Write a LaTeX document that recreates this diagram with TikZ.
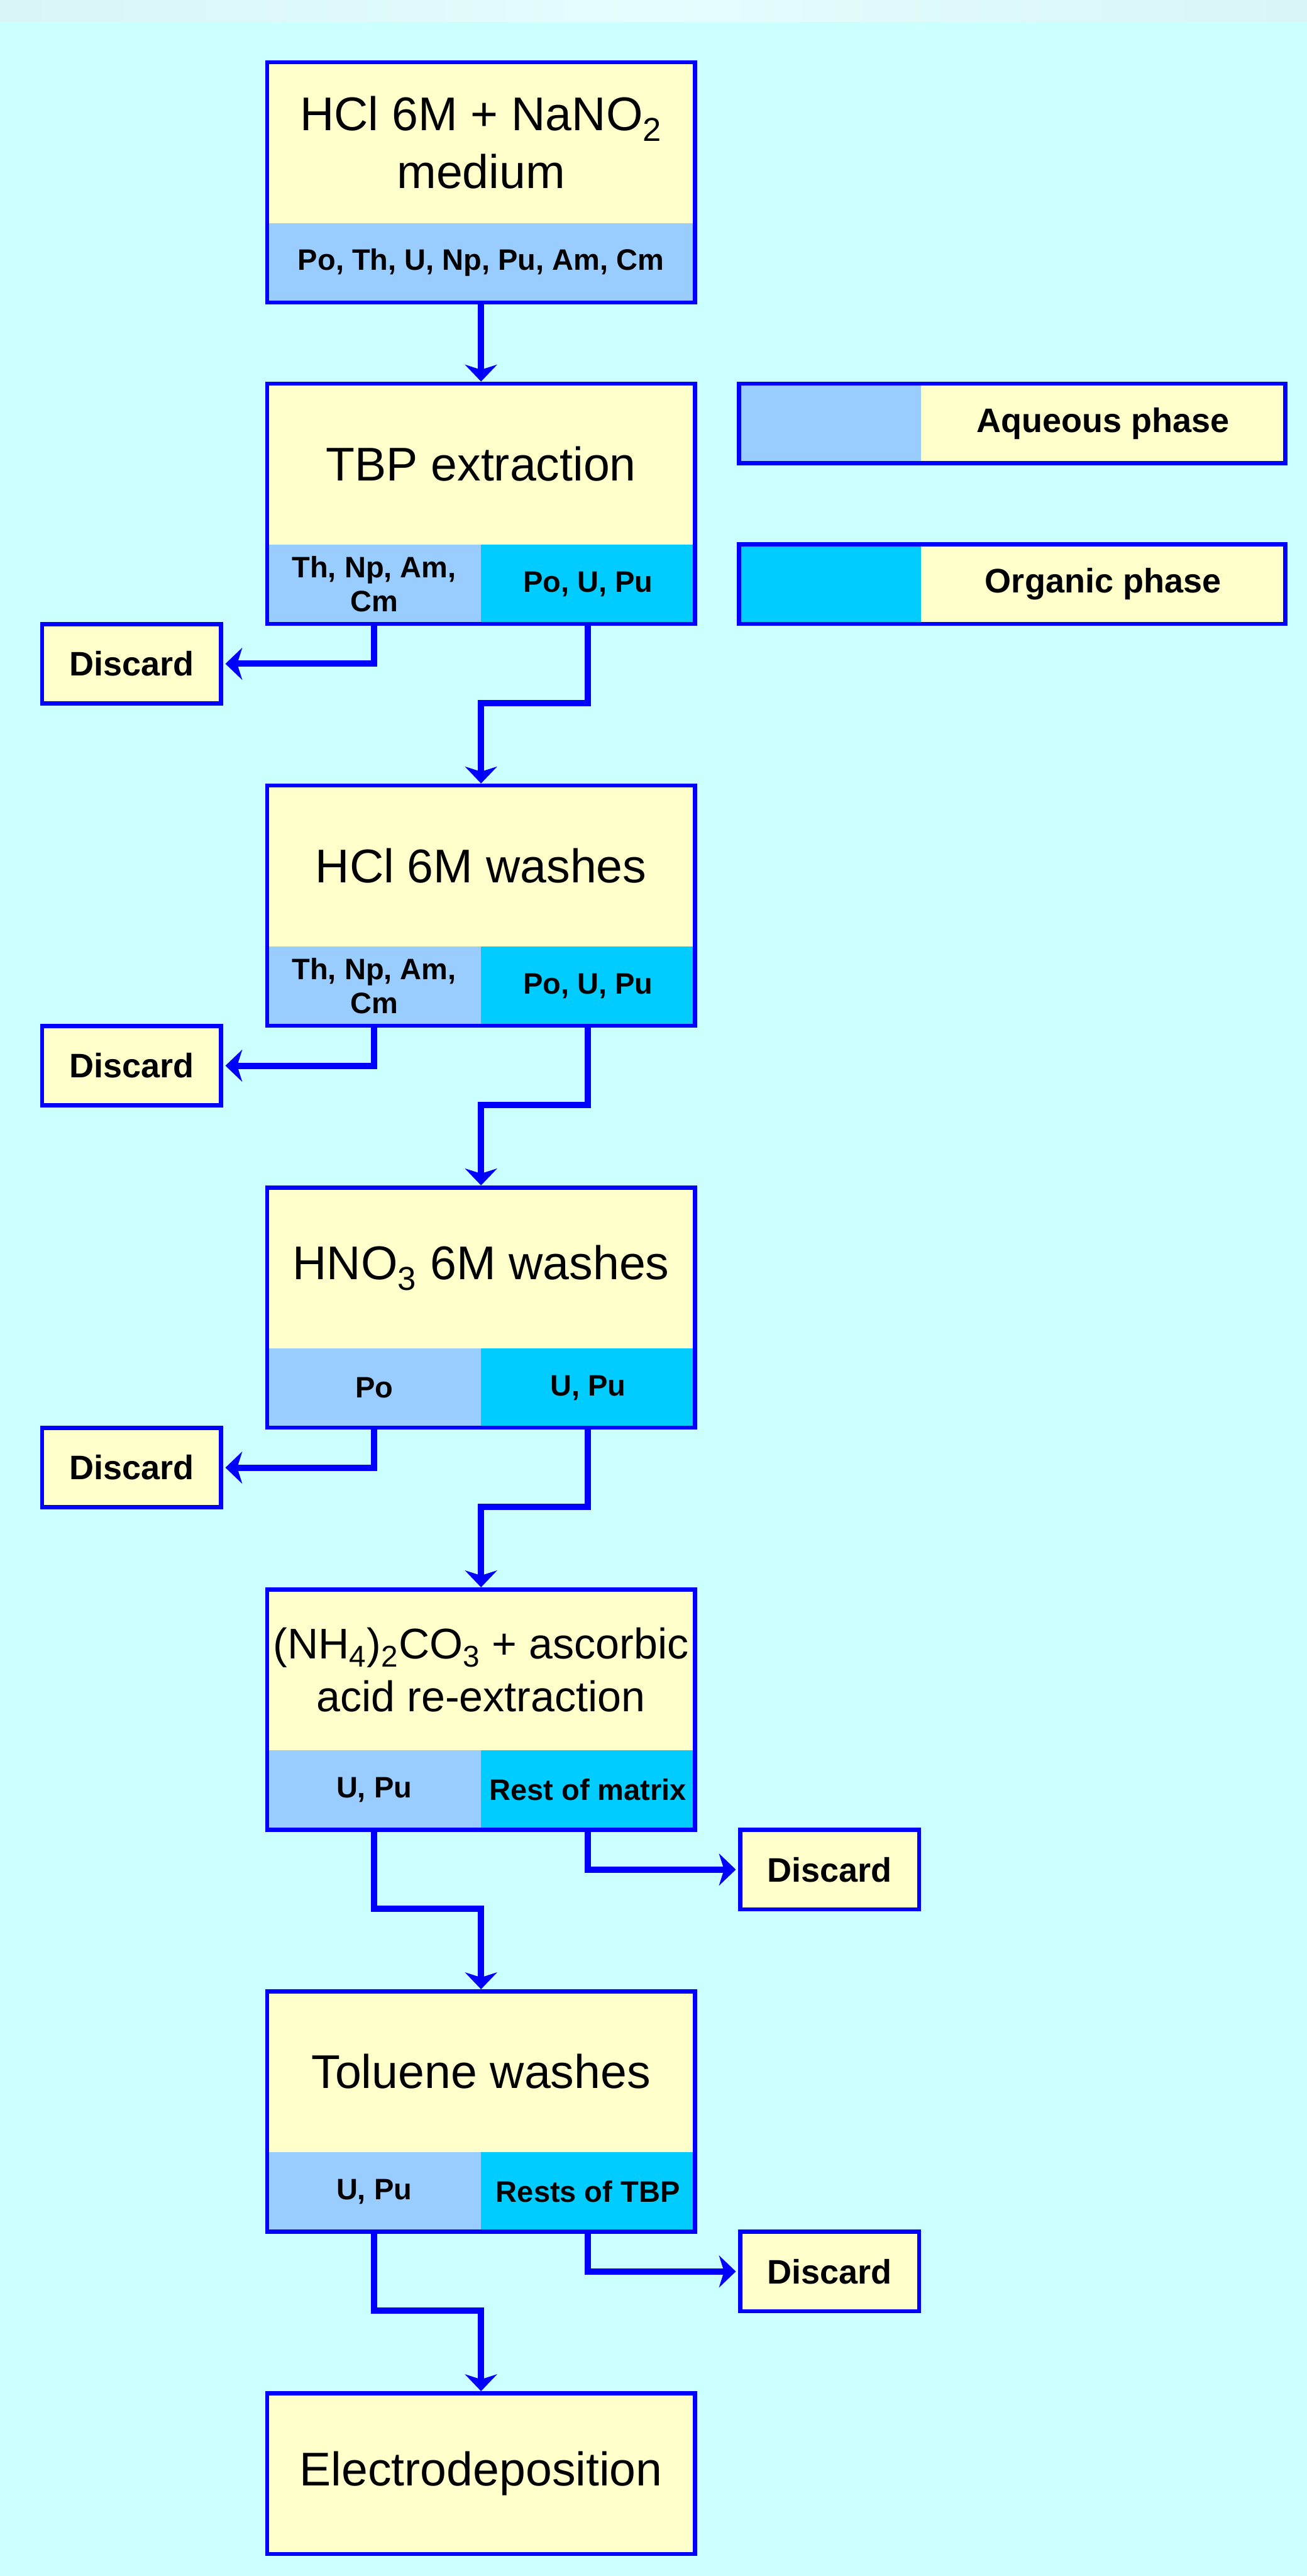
\documentclass[tikz,border=0pt]{standalone}
\usepackage{fontspec}
\setmainfont{Liberation Sans}
\usetikzlibrary{arrows.meta,positioning}
\definecolor{bgcyan}{HTML}{CCFFFF}
\definecolor{bandmid}{HTML}{E4FDFE}
\definecolor{bandedge}{HTML}{D9F5F5}
\definecolor{paleyellow}{HTML}{FFFFCC}
\definecolor{aqblue}{HTML}{99CCFF}
\definecolor{orgcyan}{HTML}{00CCFF}
\definecolor{frameblue}{HTML}{0000FF}
\newcommand\mainfnt{\fontsize{32}{39}\selectfont}
\newcommand\phasefnt{\fontsize{20}{23}\selectfont\bfseries}
\newcommand\discfnt{\fontsize{23}{27}\selectfont\bfseries}

\begin{document}
\begin{tikzpicture}[
  stepbox/.style={fill=paleyellow, minimum width=10.17cm, minimum height=3.82cm, inner sep=0pt, outer sep=0pt, align=center, font=\mainfnt},
  aqhalf/.style={fill=aqblue, minimum width=5.085cm, minimum height=1.89cm, inner sep=0pt, outer sep=0pt, align=center, font=\phasefnt},
  orghalf/.style={aqhalf, fill=orgcyan},
  discardbox/.style={draw=frameblue, line width=0.1cm, fill=paleyellow, minimum width=4.26cm, minimum height=1.89cm, inner sep=0pt, font=\discfnt},
  frame/.style={draw=frameblue, line width=0.1cm},
  flow/.style={draw=frameblue, line width=0.15cm, -{Stealth[length=0.4cm, width=0.76cm, inset=0.12cm]}, shorten >=0.05cm}
]
\fill[bgcyan] (0,0) rectangle (31.08,-61.24);
\shade[left color=bandedge, right color=bandedge, middle color=bandmid] (0,0) rectangle (31.08,-0.52);
\useasboundingbox (0,0) rectangle (31.08,-61.24);

\node[stepbox, anchor=north] (feed) at (11.44,-1.48) {HCl 6M + NaNO\textsubscript{2}\\medium};
\node[aqhalf, minimum width=10.17cm, anchor=north] (feedaq) at (feed.south) {Po, Th, U, Np, Pu, Am, Cm};
\draw[frame] (feed.north west) rectangle (feedaq.south east);

\node[stepbox, anchor=north] (tbp) at (11.44,-9.12) {TBP extraction};
\node[aqhalf, anchor=north west] (tbpaq) at (tbp.south west) {Th, Np, Am,\\Cm};
\node[orghalf, anchor=north east] (tbporg) at (tbp.south east) {Po, U, Pu};
\draw[frame] (tbp.north west) rectangle (tbporg.south east);

\node[aqhalf, minimum width=4.33cm, anchor=north west] (legaq) at (17.57,-9.12) {};
\node[stepbox, minimum width=8.67cm, minimum height=1.89cm, font=\discfnt, anchor=north west] (legaqtxt) at (legaq.north east) {Aqueous phase};
\draw[frame] (legaq.north west) rectangle (legaqtxt.south east);
\node[orghalf, minimum width=4.33cm, anchor=north west] (legorg) at (17.57,-12.94) {};
\node[stepbox, minimum width=8.67cm, minimum height=1.89cm, font=\discfnt, anchor=north west] (legorgtxt) at (legorg.north east) {Organic phase};
\draw[frame] (legorg.north west) rectangle (legorgtxt.south east);

\node[stepbox, anchor=north] (hclw) at (11.44,-18.675) {HCl 6M washes};
\node[aqhalf, anchor=north west] (hclwaq) at (hclw.south west) {Th, Np, Am,\\Cm};
\node[orghalf, anchor=north east] (hclworg) at (hclw.south east) {Po, U, Pu};
\draw[frame] (hclw.north west) rectangle (hclworg.south east);

\node[stepbox, anchor=north] (hnow) at (11.44,-28.23) {HNO\textsubscript{3} 6M washes};
\node[aqhalf, anchor=north west] (hnowaq) at (hnow.south west) {Po};
\node[orghalf, anchor=north east] (hnoworg) at (hnow.south east) {U, Pu};
\draw[frame] (hnow.north west) rectangle (hnoworg.south east);

\node[stepbox, anchor=north, font=\fontsize{29}{35.5}\selectfont] (reext) at (11.44,-37.785) {(NH\textsubscript{4})\textsubscript{2}CO\textsubscript{3} + ascorbic\\acid re-extraction};
\node[aqhalf, anchor=north west] (reextaq) at (reext.south west) {U, Pu};
\node[orghalf, anchor=north east] (reextorg) at (reext.south east) {Rest of matrix};
\draw[frame] (reext.north west) rectangle (reextorg.south east);

\node[stepbox, anchor=north] (tolw) at (11.44,-47.34) {Toluene washes};
\node[aqhalf, anchor=north west] (tolwaq) at (tolw.south west) {U, Pu};
\node[orghalf, anchor=north east] (tolworg) at (tolw.south east) {Rests of TBP};
\draw[frame] (tolw.north west) rectangle (tolworg.south east);

\node[stepbox, anchor=north] (elec) at (11.44,-56.895) {Electrodeposition};
\draw[frame] (elec.north west) rectangle (elec.south east);

\node[discardbox] (disc1) at (3.13,-15.78) {Discard};
\node[discardbox] (disc2) at (3.13,-25.335) {Discard};
\node[discardbox] (disc3) at (3.13,-34.89) {Discard};
\node[discardbox] (disc4) at (19.73,-44.445) {Discard};
\node[discardbox] (disc5) at (19.73,-54.0) {Discard};

\draw[flow] (feedaq.south) -- (tbp.north);
\draw[flow] (tbpaq.south) |- (disc1.east);
\draw[flow] (tbporg.south) -- ++(0,-1.88) -| (hclw.north);
\draw[flow] (hclwaq.south) |- (disc2.east);
\draw[flow] (hclworg.south) -- ++(0,-1.88) -| (hnow.north);
\draw[flow] (hnowaq.south) |- (disc3.east);
\draw[flow] (hnoworg.south) -- ++(0,-1.88) -| (reext.north);
\draw[flow] (reextorg.south) |- (disc4.west);
\draw[flow] (reextaq.south) -- ++(0,-1.88) -| (tolw.north);
\draw[flow] (tolworg.south) |- (disc5.west);
\draw[flow] (tolwaq.south) -- ++(0,-1.88) -| (elec.north);

\end{tikzpicture}
\end{document}
